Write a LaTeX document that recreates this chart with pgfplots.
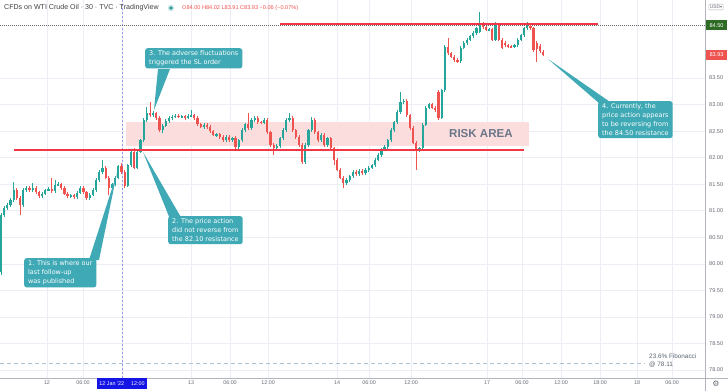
\documentclass[border=0pt]{standalone}
\usepackage{pgfplots}
\pgfplotsset{compat=1.18}
\usepackage{pgfplotstable}
\usepackage{fontspec}
\setmainfont{Liberation Sans}
\newfontfamily\dejavu{DejaVu Sans}
\definecolor{tvgreen}{HTML}{26A69A}
\definecolor{tvred}{HTML}{EF5350}
\definecolor{lineRed}{HTML}{F23645}
\definecolor{callout}{HTML}{3FA9B5}
\definecolor{riskfill}{HTML}{FCDDDD}
\definecolor{gridc}{HTML}{EBEEF5}
\definecolor{axisc}{HTML}{B2B5BE}
\definecolor{ticktext}{HTML}{6A6D78}
\definecolor{riskText}{HTML}{6B7788}
\definecolor{fibc}{HTML}{A9C4D8}
\definecolor{fibtext}{HTML}{5B6670}
\definecolor{crossc}{HTML}{9598F0}
\definecolor{hlblue}{HTML}{1515E6}
\definecolor{greenlabel}{HTML}{2E6B24}

\pgfplotstableread{
i o h l c
0 79.85 80.96 79.79 80.92
1 80.92 81.09 80.88 81.05
2 81.05 81.15 81.01 81.11
3 81.11 81.24 81.07 81.20
4 81.20 81.54 81.17 81.39
5 81.39 81.42 81.20 81.24
6 81.24 81.27 80.92 81.11
7 81.11 81.43 81.08 81.39
8 81.39 81.47 81.36 81.43
9 81.43 81.46 81.36 81.39
10 81.39 81.52 81.36 81.43
11 81.43 81.46 81.32 81.35
12 81.35 81.38 81.25 81.28
13 81.28 81.35 81.25 81.32
14 81.32 81.42 81.29 81.39
15 81.39 81.44 81.37 81.41
16 81.41 81.62 81.34 81.37
17 81.37 81.58 81.34 81.49
18 81.49 81.54 81.46 81.50
19 81.50 81.53 81.40 81.43
20 81.43 81.46 81.29 81.32
21 81.32 81.35 81.25 81.28
22 81.28 81.32 81.25 81.29
23 81.29 81.32 81.23 81.26
24 81.26 81.37 81.23 81.34
25 81.34 81.47 81.31 81.43
26 81.43 81.46 81.32 81.35
27 81.35 81.38 81.21 81.24
28 81.24 81.33 81.21 81.30
29 81.30 81.42 81.27 81.39
30 81.39 81.61 81.36 81.58
31 81.58 81.76 81.55 81.73
32 81.73 81.96 81.70 81.81
33 81.81 81.84 81.59 81.62
34 81.62 81.65 81.30 81.43
35 81.43 81.53 81.40 81.50
36 81.50 81.65 81.47 81.62
37 81.62 81.87 81.59 81.84
38 81.84 81.90 81.70 81.73
39 81.73 81.76 81.43 81.47
40 81.47 81.89 81.44 81.86
41 81.86 82.14 81.83 82.11
42 82.11 82.18 81.78 81.81
43 81.81 82.14 81.78 82.11
44 82.11 82.36 82.08 82.33
45 82.33 82.74 82.30 82.71
46 82.71 82.95 82.68 82.84
47 82.84 83.05 82.77 82.80
48 82.80 82.88 82.77 82.84
49 82.84 82.87 82.72 82.75
50 82.75 82.78 82.49 82.52
51 82.52 82.63 82.46 82.60
52 82.60 82.72 82.57 82.69
53 82.69 82.78 82.66 82.75
54 82.75 82.80 82.72 82.77
55 82.77 82.82 82.74 82.79
56 82.79 82.82 82.74 82.77
57 82.77 82.81 82.74 82.78
58 82.78 82.81 82.72 82.75
59 82.75 82.82 82.72 82.79
60 82.79 82.90 82.76 82.80
61 82.80 82.83 82.72 82.75
62 82.75 82.78 82.60 82.63
63 82.63 82.66 82.55 82.58
64 82.58 82.65 82.55 82.62
65 82.62 82.65 82.55 82.58
66 82.58 82.61 82.47 82.50
67 82.50 82.53 82.40 82.43
68 82.43 82.47 82.40 82.44
69 82.44 82.47 82.36 82.39
70 82.39 82.42 82.30 82.33
71 82.33 82.42 82.30 82.39
72 82.39 82.42 82.30 82.33
73 82.33 82.40 82.30 82.37
74 82.37 82.40 82.17 82.20
75 82.20 82.36 82.17 82.33
76 82.33 82.55 82.30 82.52
77 82.52 82.66 82.49 82.63
78 82.63 82.84 82.53 82.56
79 82.56 82.74 82.53 82.71
80 82.71 82.78 82.68 82.75
81 82.75 82.78 82.64 82.67
82 82.67 82.70 82.63 82.66
83 82.66 82.74 82.63 82.71
84 82.71 82.74 82.45 82.48
85 82.48 82.51 82.21 82.24
86 82.24 82.27 82.05 82.18
87 82.18 82.25 82.15 82.22
88 82.22 82.40 82.19 82.37
89 82.37 82.55 82.34 82.52
90 82.52 82.74 82.49 82.71
91 82.71 82.84 82.68 82.75
92 82.75 82.78 82.49 82.52
93 82.52 82.55 82.36 82.39
94 82.39 82.42 82.21 82.24
95 82.24 82.27 81.89 81.92
96 81.92 82.27 81.89 82.24
97 82.24 82.55 82.21 82.52
98 82.52 82.77 82.49 82.71
99 82.71 82.74 82.45 82.48
100 82.48 82.51 82.30 82.33
101 82.33 82.46 82.30 82.43
102 82.43 82.46 82.21 82.24
103 82.24 82.40 82.21 82.37
104 82.37 82.40 82.15 82.18
105 82.18 82.21 81.86 81.96
106 81.96 81.99 81.74 81.77
107 81.77 81.80 81.59 81.62
108 81.62 81.65 81.43 81.52
109 81.52 81.61 81.49 81.58
110 81.58 81.68 81.55 81.65
111 81.65 81.76 81.62 81.73
112 81.73 81.76 81.66 81.69
113 81.69 81.78 81.66 81.75
114 81.75 81.78 81.68 81.71
115 81.71 81.80 81.68 81.77
116 81.77 81.84 81.74 81.81
117 81.81 81.89 81.78 81.86
118 81.86 81.99 81.83 81.96
119 81.96 82.08 81.93 82.05
120 82.05 82.18 82.02 82.15
121 82.15 82.23 82.12 82.20
122 82.20 82.36 82.17 82.33
123 82.33 82.55 82.30 82.52
124 82.52 82.70 82.49 82.67
125 82.67 82.89 82.64 82.86
126 82.86 83.24 82.83 83.05
127 83.05 83.11 83.02 83.07
128 83.07 83.10 82.77 82.80
129 82.80 82.83 82.53 82.56
130 82.56 82.59 82.25 82.28
131 82.28 82.31 81.77 82.15
132 82.15 82.21 82.10 82.18
133 82.18 82.65 82.15 82.62
134 82.62 82.97 82.59 82.94
135 82.94 83.04 82.91 83.01
136 83.01 83.04 82.91 82.94
137 82.94 82.97 82.87 82.90
138 83.24 83.27 82.72 82.75
139 82.75 83.30 82.72 83.27
140 83.27 84.12 83.24 84.09
141 84.09 84.25 83.94 83.97
142 83.97 84.00 83.87 83.90
143 83.90 83.93 83.81 83.84
144 83.84 83.87 83.79 83.82
145 83.82 84.10 83.79 84.07
146 84.07 84.19 84.04 84.16
147 84.16 84.25 84.13 84.22
148 84.22 84.32 84.19 84.29
149 84.29 84.38 84.26 84.35
150 84.35 84.47 84.32 84.44
151 84.37 84.74 84.34 84.50
152 84.50 84.56 84.43 84.46
153 84.46 84.49 84.38 84.41
154 84.41 84.45 84.38 84.42
155 84.42 84.45 84.19 84.22
156 84.22 84.56 84.19 84.50
157 84.50 84.53 84.19 84.22
158 84.22 84.25 84.04 84.07
159 84.16 84.19 84.09 84.12
160 84.12 84.15 84.07 84.10
161 84.10 84.13 84.06 84.09
162 84.09 84.15 84.06 84.12
163 84.12 84.25 84.09 84.22
164 84.22 84.34 84.19 84.31
165 84.31 84.47 84.28 84.44
166 84.44 84.56 84.41 84.48
167 84.48 84.52 84.41 84.44
168 84.44 84.47 84.00 84.03
169 84.16 84.19 83.80 84.05
170 84.10 84.14 83.98 84.02
171 84.00 84.02 83.91 83.93
}\candles

\tikzset{callbox/.style={fill=callout, rounded corners=2.5bp, text=white,
  font=\dejavu\fontsize{6.5}{9}\selectfont, align=left, inner xsep=4bp, inner ysep=2.5bp}}
\pgfplotsset{candle/.style={only marks, mark size=0pt, mark options={draw=none, fill=none}, forget plot}}

\begin{document}
\begin{tikzpicture}[x=1bp,y=1bp]
\path[use as bounding box, fill=white] (0,0) rectangle (728,391);
\begin{axis}[
  at={(0bp,13bp)}, anchor=south west,
  scale only axis, width=705bp, height=378bp,
  xmin=-0.315, xmax=222.08, ymin=77.849, ymax=84.971,
  axis line style={draw=none},
  major tick length=0pt,
  grid=major, major grid style={draw=gridc, line width=0.6bp},
  /pgf/number format/assume math mode=true,
  xtick={14.51,25.87,38.17,59.94,72.24,84.23,106.0,116.09,129.34,153.31,164.35,176.66,188.96,200.63,211.67},
  xticklabels={12,06:00,,13,06:00,12:00,14,06:00,12:00,17,06:00,12:00,18:00,18,06:00},
  xticklabel style={font=\fontsize{5.4}{6}\selectfont, text=ticktext, anchor=north, inner sep=0pt, yshift=-3bp},
  ytick={78,78.5,79,79.5,80,80.5,81,81.5,82,82.5,83,83.5},
  yticklabel pos=right,
  yticklabel style={font=\fontsize{5.6}{6}\selectfont, text=ticktext, anchor=west, inner sep=0pt, xshift=4bp,
    /pgf/number format/.cd, fixed, fixed zerofill, precision=2},
]
% risk area
\fill[riskfill] (axis cs:39.4,82.22) rectangle (axis cs:166.6,82.67);
% crosshair
\draw[crossc, line width=0.6bp, dash pattern=on 2bp off 2bp] (axis cs:38.17,77.849) -- (axis cs:38.17,84.971);
% fibonacci
\draw[fibc, line width=0.9bp, dash pattern=on 4bp off 3bp] (axis cs:-0.315,78.12) -- (axis cs:203.2,78.12);
% dotted price line
\draw[black!60, line width=0.5bp, dash pattern=on 0.8bp off 1.2bp] (axis cs:-0.315,84.50) -- (axis cs:222.08,84.50);

% wicks up
\addplot[candle,
  restrict expr to domain={\thisrow{c}-\thisrow{o}}{0:100},
  error bars/.cd, y dir=both, y explicit, error mark=none,
  error bar style={draw=tvgreen, line width=0.7bp}]
  table[x=i, y expr={(\thisrow{h}+\thisrow{l})/2}, y error expr={(\thisrow{h}-\thisrow{l})/2}] {\candles};
% wicks down
\addplot[candle,
  restrict expr to domain={\thisrow{c}-\thisrow{o}}{-100:-0.0001},
  error bars/.cd, y dir=both, y explicit, error mark=none,
  error bar style={draw=tvred, line width=0.7bp}]
  table[x=i, y expr={(\thisrow{h}+\thisrow{l})/2}, y error expr={(\thisrow{h}-\thisrow{l})/2}] {\candles};
% bodies up
\addplot[candle,
  restrict expr to domain={\thisrow{c}-\thisrow{o}}{0:100},
  error bars/.cd, y dir=both, y explicit, error mark=none,
  error bar style={draw=tvgreen, line width=2.2bp}]
  table[x=i, y expr={(\thisrow{o}+\thisrow{c})/2}, y error expr={max(abs(\thisrow{c}-\thisrow{o})/2,0.006)}] {\candles};
% bodies down
\addplot[candle,
  restrict expr to domain={\thisrow{c}-\thisrow{o}}{-100:-0.0001},
  error bars/.cd, y dir=both, y explicit, error mark=none,
  error bar style={draw=tvred, line width=2.2bp}]
  table[x=i, y expr={(\thisrow{o}+\thisrow{c})/2}, y error expr={max(abs(\thisrow{c}-\thisrow{o})/2,0.006)}] {\candles};

% resistance lines
\draw[lineRed, line width=1.6bp] (axis cs:4.1,82.145) -- (axis cs:165,82.145);
\draw[lineRed, line width=1.6bp] (axis cs:88,84.52) -- (axis cs:188.3,84.52);
\node[font=\fontsize{11.6}{12}\selectfont\bfseries, text=riskText] at (axis cs:151.4,82.45) {RISK AREA};
\end{axis}

% axis borders
\draw[axisc, line width=0.6bp] (705,0) -- (705,391);
\draw[axisc, line width=0.6bp] (0,13) -- (728,13);

% header
\node[anchor=west, inner sep=0pt, font=\fontsize{7.1}{7.5}\selectfont, text=black!75] at (4,383) {CFDs on WTI Crude Oil · 30 · TVC · TradingView};
\fill[tvgreen!30] (171,383) circle (3.2);
\fill[tvgreen!85!black] (171,383) circle (1.7);
\node[anchor=west, inner sep=0pt, font=\fontsize{5.6}{6}\selectfont, text=tvred] at (182,383) {O84.00 H84.02 L83.91 C83.93 −0.06 (−0.07\%)};

% right scale extras
\node[draw=axisc, rounded corners=1bp, font=\fontsize{4.8}{5}\selectfont, text=ticktext, inner sep=1.2bp] at (716,384) {USD{\dejavu\fontsize{4}{4}\selectfont ▾}};
\node[fill=greenlabel, text=white, font=\fontsize{5.6}{6}\selectfont, inner sep=0pt, minimum width=21bp, minimum height=10bp] at (716.5,365.5) {84.50};
\node[fill=tvred, text=white, font=\fontsize{5.6}{6}\selectfont, inner sep=0pt, minimum width=21bp, minimum height=10bp] at (716.5,336) {83.93};
\node[text=ticktext, inner sep=0pt, font=\dejavu\fontsize{8}{8}\selectfont] at (716,7) {⚙};

% time highlight
\node[fill=hlblue, text=white, font=\fontsize{5.4}{6}\selectfont, inner sep=0pt, minimum width=50bp, minimum height=11bp] at (122,7.5) {12 Jan '22\hspace{7bp}12:00};

% fibonacci text
\node[anchor=north west, align=left, inner sep=0pt, font=\fontsize{6.4}{7.4}\selectfont, text=fibtext] at (649,37) {23.6\% Fibonacci\\@ 78.11};

% callout pointers
\fill[callout] (117,218) -- (89,131) -- (99,131) -- cycle;
\fill[callout] (143,239) -- (170,172) -- (182,172) -- cycle;
\fill[callout] (154,281) -- (158,322) -- (170,322) -- cycle;
\fill[callout] (548,332) -- (600,287) -- (613,287) -- cycle;

% callout boxes
\node[callbox, anchor=north west] at (24,133) {1. This is where our\\last follow-up\\was published};
\node[callbox, anchor=north west] at (168,175) {2. The price action\\did not reverse from\\the 82.10 resistance};
\node[callbox, anchor=north west] at (145,343) {3. The adverse fluctuations\\triggered the SL order};
\node[callbox, anchor=north west] at (598,290) {4. Currently, the\\price action appears\\to be reversing from\\the 84.50 resistance};
\end{tikzpicture}
\end{document}
